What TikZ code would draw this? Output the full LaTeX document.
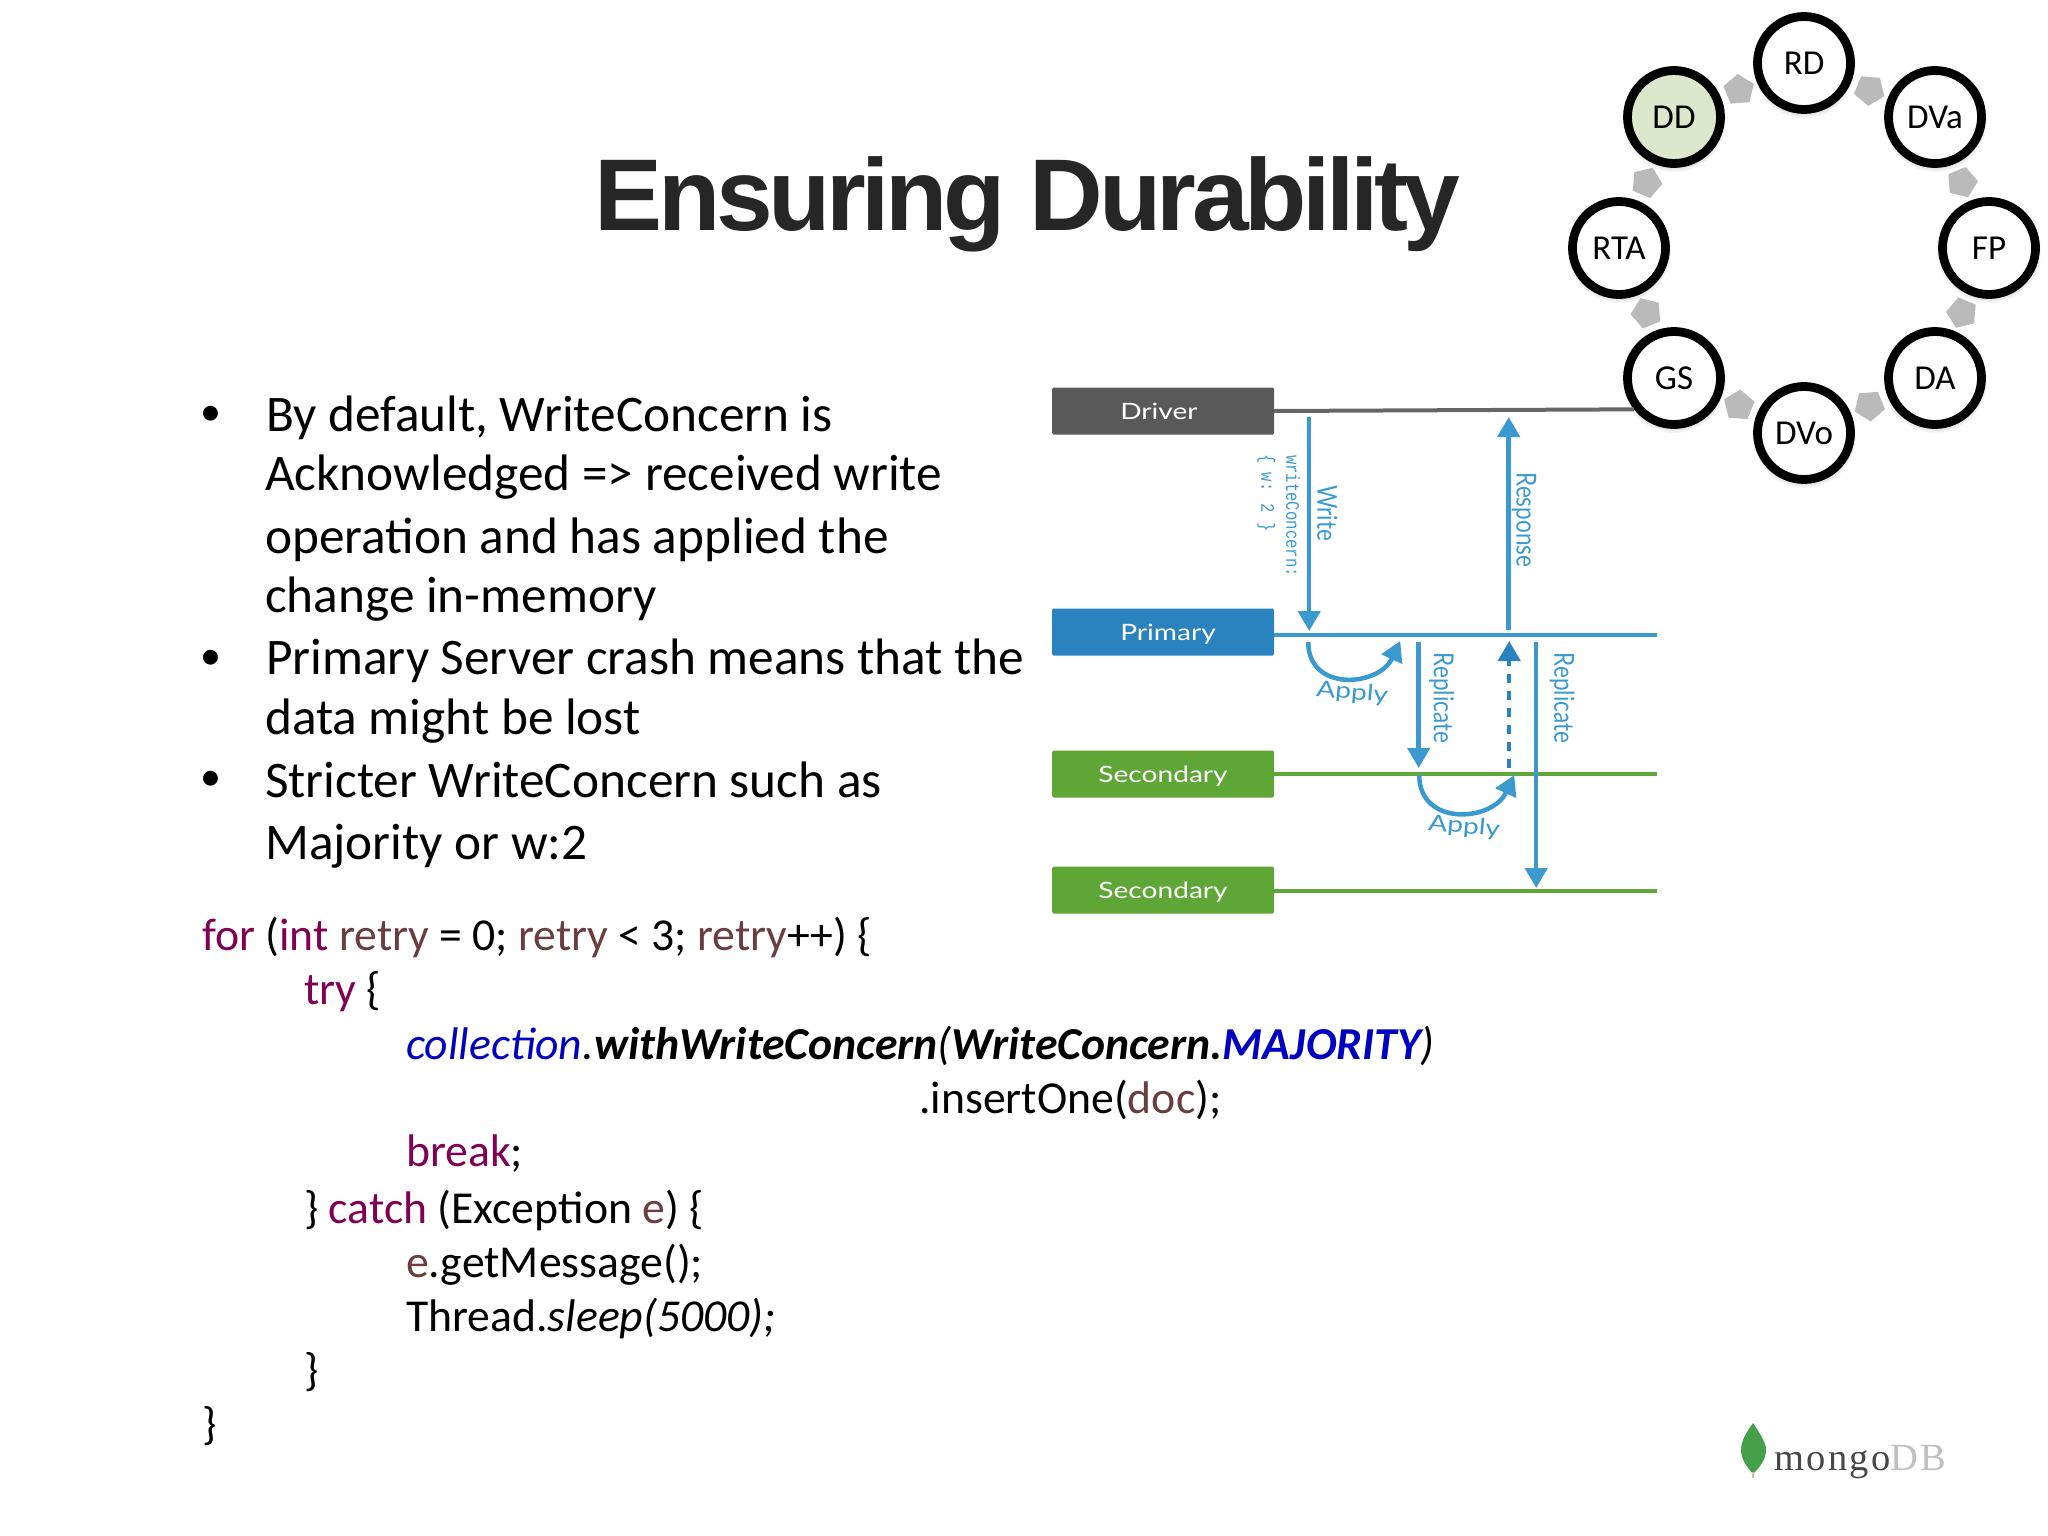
\documentclass[tikz,border=0pt]{standalone}
\usepackage{fontspec}
\usepackage{xcolor}
\usetikzlibrary{shapes.geometric,arrows.meta,calc,shadows}
\setmainfont{Carlito}
\newfontfamily\titlefont[LetterSpace=-4.35]{Liberation Sans}
\newfontfamily\labelfont[FakeStretch=1.25]{Lato}
\newfontfamily\sidefont[FakeStretch=0.82]{Lato}
\newfontfamily\wcfont[FakeStretch=0.82]{Liberation Mono}
\newfontfamily\logofont[LetterSpace=6]{Liberation Serif}
\definecolor{drvgray}{HTML}{595959}
\definecolor{prmblue}{HTML}{2A83BF}
\definecolor{flowblue}{HTML}{3A9AD0}
\definecolor{secgreen}{HTML}{5EA737}
\definecolor{ddfill}{HTML}{DDE7CB}
\definecolor{leafgreen}{HTML}{46A04A}
\definecolor{kwpurple}{HTML}{7F0055}
\definecolor{varbrown}{HTML}{6A3E3E}
\definecolor{fieldblue}{HTML}{0000C0}
\newcommand{\kw}[1]{\textcolor{kwpurple}{#1}}
\newcommand{\vr}[1]{\textcolor{varbrown}{#1}}
\newcommand{\fld}[1]{\textcolor{fieldblue}{#1}}
\tikzset{
  rolebox/.style={shape=rectangle, rounded corners=1.5pt, minimum width=222pt, minimum height=47pt, text height=16pt, text depth=0pt, text=white, font=\labelfont\fontsize{22.5}{26}\selectfont},
  ring/.style={draw=black, shape=circle, line width=8.8pt, fill=white, minimum size=93pt, inner sep=0pt, font=\fontsize{35}{38}\selectfont, circular drop shadow={shadow scale=1.12, shadow xshift=0pt, shadow yshift=-3pt, opacity=0.35}},
  chev/.style={shape=regular polygon, regular polygon sides=5, fill=black!27, minimum size=32pt, inner sep=0pt},
  flow/.style={draw=flowblue, line width=4.5pt, -{Triangle[length=20pt,width=22pt]}},
  tline/.style={line width=4pt},
  flowlabel/.style={text=flowblue, font=\labelfont\fontsize{22.5}{26}\selectfont, inner sep=0pt, rotate=-5},
  sidelabel/.style={text=flowblue, font=\sidefont\fontsize{27.5}{31}\selectfont, inner sep=0pt, rotate=-90},
  wclabel/.style={text=flowblue, font=\wcfont\fontsize{19}{22}\selectfont, inner sep=0pt, rotate=-90},
  bodyline/.style={anchor=base west, inner sep=0pt, font=\fontsize{51.3}{60}\selectfont},
  bulletdot/.style={anchor=base, inner sep=0pt, font=\fontsize{42}{50}\selectfont},
  codeline/.style={anchor=base west, inner sep=0pt, font=\fontsize{45.7}{54}\selectfont},
}

\begin{document}
\begin{tikzpicture}[x=1pt, y=-1pt]
\useasboundingbox (0,0) rectangle (2048,1536);

\node[anchor=base, inner sep=0pt, text=black!85, font=\titlefont\bfseries\fontsize{102}{110}\selectfont] (title) at (1027.5,230) {Ensuring Durability};

% text on the left
\node[bulletdot] (ba) at (211,425) {•};
\node[bodyline] (la) at (266,431) {By default, WriteConcern is};
\node[bodyline] (lb) at (265,490) {Acknowledged => received write};
\node[bodyline] (lc) at (265,553) {operation and has applied the};
\node[bodyline] (ld) at (265,612) {change in-memory};
\node[bulletdot] (bb) at (211,669) {•};
\node[bodyline] (le) at (266,674) {Primary Server crash means that the};
\node[bodyline] (lf) at (265,734) {data might be lost};
\node[bulletdot] (bc) at (211,790) {•};
\node[bodyline] (lg) at (265,797) {Stricter WriteConcern such as};
\node[bodyline] (lh) at (265,859) {Majority or w:2};

% code
\node[codeline] (ca) at (202,950) {\kw{for} (\kw{int} \vr{retry} = 0; \vr{retry} < 3; \vr{retry}++) \{};
\node[codeline] (cb) at (304,1004) {\kw{try} \{};
\node[codeline] (cc) at (406,1059) {\textit{\fld{collection}.}\textit{\textbf{withWriteConcern}(\textbf{WriteConcern.\fld{MAJORITY}})}};
\node[codeline] (cd) at (919,1113) {.insertOne(\vr{doc});};
\node[codeline] (ce) at (406,1166) {\kw{break};};
\node[codeline] (cf) at (304,1223) {\} \kw{catch} (Exception \vr{e}) \{};
\node[codeline] (cg) at (406,1277) {\vr{e}.getMessage();};
\node[codeline] (ch) at (406,1331) {Thread.\textit{sleep(5000);}};
\node[codeline] (ci) at (304,1385) {\}};
\node[codeline] (cj) at (202,1439) {\}};

% ring of phases
\node[ring] (rd) at (1804,63) {RD};
\node[ring, right of=rd, node distance=131pt, yshift=-54pt] (dva) {DVa};
\node[ring, right of=dva, node distance=54pt, yshift=-131pt] (fp) {FP};
\node[ring, left of=fp, node distance=54pt, yshift=-130pt] (da) {DA};
\node[ring, left of=da, node distance=131pt, yshift=-55pt] (dvo) {DVo};
\node[ring, left of=dvo, node distance=130pt, yshift=55pt] (gs) {GS};
\node[ring, left of=gs, node distance=55pt, yshift=130pt] (rta) {RTA};
\node[ring, fill=ddfill, right of=rta, node distance=55pt, yshift=131pt] (dd) {DD};
\node[chev, rotate=-67.5] (cha) at ($(dd)!0.5!(rd)$) {};
\node[chev, rotate=-112.5] (chb) at ($(rd)!0.5!(dva)$) {};
\node[chev, rotate=-157.5] (chc) at ($(dva)!0.5!(fp)$) {};
\node[chev, rotate=157.5] (chd) at ($(fp)!0.5!(da)$) {};
\node[chev, rotate=112.5] (che) at ($(da)!0.5!(dvo)$) {};
\node[chev, rotate=67.5] (chf) at ($(dvo)!0.5!(gs)$) {};
\node[chev, rotate=22.5] (chg) at ($(gs)!0.5!(rta)$) {};
\node[chev, rotate=-22.5] (chh) at ($(rta)!0.5!(dd)$) {};

% boxes on the left of the time lines
\node[rolebox, fill=drvgray] (drv) at (1163,411) {Driver\hspace*{8pt}};
\node[rolebox, fill=prmblue, below of=drv, node distance=221pt] (prm) {\hspace*{10pt}Primary};
\node[rolebox, fill=secgreen, below of=prm, node distance=142pt] (seca) {Secondary};
\node[rolebox, fill=secgreen, below of=seca, node distance=116pt] (secb) {Secondary};

% time lines
\draw[tline, draw=black!60] (drv.east) -- (gs.218);
\draw[tline, draw=flowblue] ([yshift=-3pt] prm.east) -- ([xshift=383pt, yshift=-3pt] prm.east);
\draw[tline, draw=secgreen] (seca.east) -- ([xshift=383pt] seca.east);
\draw[tline, draw=secgreen] ([yshift=-1pt] secb.east) -- ([xshift=383pt, yshift=-1pt] secb.east);

\draw[flow] ([xshift=35pt, yshift=-6pt] drv.east) -- ([xshift=35pt, yshift=1pt] prm.east);
\draw[flow] ([xshift=234.5pt, yshift=2pt] prm.east) -- ([xshift=234.5pt, yshift=-6pt] drv.east);
\draw[flow] ([xshift=34pt, yshift=-10pt] prm.east) to[out=-90, in=245, looseness=1.4] ([xshift=126pt, yshift=-9pt] prm.east);
\draw[flow] ([xshift=144.5pt, yshift=-10pt] prm.east) -- ([xshift=144.5pt, yshift=6pt] seca.east);
\draw[flow, dash pattern=on 9pt off 8pt, draw=prmblue] ([xshift=235pt, yshift=6.5pt] seca.east) -- ([xshift=235pt, yshift=-9pt] prm.east);
\draw[flow] ([xshift=262pt, yshift=-10pt] prm.east) -- ([xshift=262pt, yshift=2pt] secb.east);
\draw[flow] ([xshift=145pt, yshift=-1pt] seca.east) to[out=-90, in=245, looseness=1.4] ([xshift=240pt, yshift=-1pt] seca.east);

\node[sidelabel] (wr) at ([xshift=53pt, yshift=-102pt] drv.east) {Write};
\node[wclabel] (wca) at ([xshift=19pt, yshift=-105pt] drv.east) {writeConcern:};
\node[wclabel] (wcb) at ([xshift=-8pt, yshift=-82pt] drv.east) {\{ w: 2 \}};
\node[sidelabel] (rs) at ([xshift=250pt, yshift=-109pt] drv.east) {Response};
\node[flowlabel] (apa) at ([xshift=78pt, yshift=-61pt] prm.east) {Apply};
\node[sidelabel] (rpa) at ([xshift=167.5pt, yshift=-66pt] prm.east) {Replicate};
\node[sidelabel] (rpb) at ([xshift=288pt, yshift=-66pt] prm.east) {Replicate};
\node[flowlabel] (apb) at ([xshift=190pt, yshift=-53pt] seca.east) {Apply};

% logo
\fill[leafgreen] (1753,1423) .. controls (1745,1434) and (1741,1442) .. (1741,1450) .. controls (1741,1460) and (1748,1468) .. (1753,1474) .. controls (1759,1468) and (1766,1460) .. (1766,1450) .. controls (1766,1442) and (1760,1434) .. (1753,1423) -- cycle;
\draw[draw=black!25!brown!40, line width=1.2pt] (1753,1472) -- (1753,1478);
\node[anchor=base west, inner sep=0pt, font=\logofont\fontsize{38.5}{42}\selectfont, text=black!72] (logo) at (1774,1470) {mongo\textcolor{black!25}{DB}};
\end{tikzpicture}
\end{document}
